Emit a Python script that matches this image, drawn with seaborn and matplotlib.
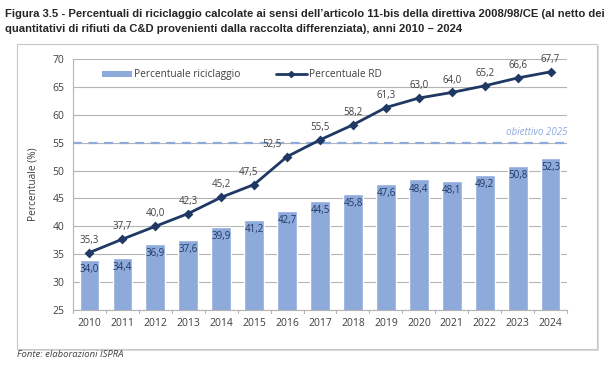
import numpy as np
import pandas as pd
import seaborn as sns
import matplotlib
matplotlib.use('Agg')
import matplotlib.pyplot as plt
from matplotlib.patches import Patch, Rectangle
from matplotlib.lines import Line2D

anni = ['2010', '2011', '2012', '2013', '2014', '2015', '2016', '2017',
        '2018', '2019', '2020', '2021', '2022', '2023', '2024']
riciclaggio = [34.0, 34.4, 36.9, 37.6, 39.9, 41.2, 42.7, 44.5,
               45.8, 47.6, 48.4, 48.1, 49.2, 50.8, 52.3]
perc_rd = [35.3, 37.7, 40.0, 42.3, 45.2, 47.5, 52.5, 55.5,
           58.2, 61.3, 63.0, 64.0, 65.2, 66.6, 67.7]
obiettivo = 55

df = pd.DataFrame({'anno': anni, 'ric': riciclaggio, 'rd': perc_rd})

sns.set_style('white')
plt.rcParams['font.family'] = ['Open Sans', 'DejaVu Sans']

col_bar = '#8eaadb'
col_line = '#1f3864'
col_txt = '#404040'
col_grid = '#b4b4b4'

fig = plt.figure(figsize=(6.16, 3.67), dpi=100)

# cornice del grafico
fig.patches.append(Rectangle((0.030, 0.044), 0.9416, 0.831, transform=fig.transFigure,
                             facecolor='#d9d9d9', edgecolor='none', zorder=0))
fig.patches.append(Rectangle((0.0276, 0.049), 0.9416, 0.831, transform=fig.transFigure,
                             facecolor='white', edgecolor='#c8c8c8', lw=0.8, zorder=1))

ax = fig.add_axes([0.1185, 0.1553, 0.802, 0.6839])
ax.set_zorder(2)
ax.patch.set_alpha(0)

sns.barplot(data=df, x='anno', y='ric', color=col_bar, width=0.6, saturation=1, ax=ax, zorder=2)
sns.pointplot(data=df, x='anno', y='rd', color=col_line, markers='D', markersize=3.5,
              linewidth=2, ax=ax, zorder=4)

ax.axhline(obiettivo, color=col_bar, lw=1.6, dashes=(4, 3), zorder=3, clip_on=False)
ax.text(14.5, obiettivo + 0.8, 'obiettivo 2025', color=col_bar, style='italic', fontsize=7,
        ha='right', va='bottom')

def fmt(v):
    return f'{v:.1f}'.replace('.', ',')

# spostamento orizzontale etichette RD (come nel grafico originale)
dx_rd = [0, 0, 0, 0, 0, -4, -11, 0, 0, 0, 0, 0, 0, 0, 0]
for i, v in enumerate(perc_rd):
    ax.annotate(fmt(v), (i, v), xytext=(dx_rd[i], 5), textcoords='offset points',
                ha='center', va='bottom', fontsize=7, color=col_txt)
for i, v in enumerate(riciclaggio):
    ax.annotate(fmt(v), (i, v), xytext=(0, -3), textcoords='offset points',
                ha='center', va='top', fontsize=7, color=col_line)

ax.set_ylim(25, 70)
ax.set_xlim(-0.5, 14.5)
ax.set_yticks(np.arange(25, 71, 5))
ax.yaxis.grid(True, color=col_grid, lw=0.8)
ax.set_axisbelow(True)
ax.set_xlabel('')
ax.set_ylabel('Percentuale (%)', fontsize=7.3, color=col_txt, labelpad=10)
ax.tick_params(axis='both', labelsize=7.5, colors=col_txt, length=0, pad=6)
for s in ['top', 'right']:
    ax.spines[s].set_visible(False)
ax.spines['left'].set_color(col_grid)
ax.spines['bottom'].set_color(col_grid)
ax.spines['left'].set_linewidth(0.8)
ax.spines['bottom'].set_linewidth(0.8)
# tacche tra le categorie
for k in np.arange(-0.5, 15, 1):
    ax.plot([k, k], [25, 24.4], color=col_grid, lw=0.8, clip_on=False)

handles = [Patch(facecolor=col_bar, edgecolor='none'),
           Line2D([0], [0], color=col_line, lw=2, marker='D', markersize=3)]
ax.legend(handles, ['Percentuale riciclaggio', 'Percentuale RD'], loc='upper left',
          bbox_to_anchor=(0.04, 0.995), ncol=2, frameon=False, fontsize=7.3,
          handlelength=3, handleheight=0.6, columnspacing=3.5, handletextpad=0.2,
          labelcolor=col_txt)

tfam = ['Liberation Sans', 'DejaVu Sans']
fig.text(0.008, 0.962, 'Figura 3.5 - Percentuali di riciclaggio calcolate ai sensi dell\u2019articolo 11-bis '
         'della direttiva 2008/98/CE (al netto dei', fontsize=8.15, fontweight='bold',
         family=tfam, color='#262626', va='center')
fig.text(0.008, 0.922, 'quantitativi di rifiuti da C&D provenienti dalla raccolta differenziata), '
         'anni 2010 \u2013 2024', fontsize=8.15, fontweight='bold', family=tfam,
         color='#262626', va='center')
fig.text(0.027, 0.033, 'Fonte: elaborazioni ISPRA', fontsize=6.8, style='italic',
         color=col_txt, va='center')

plt.savefig('out.png', dpi=100)
